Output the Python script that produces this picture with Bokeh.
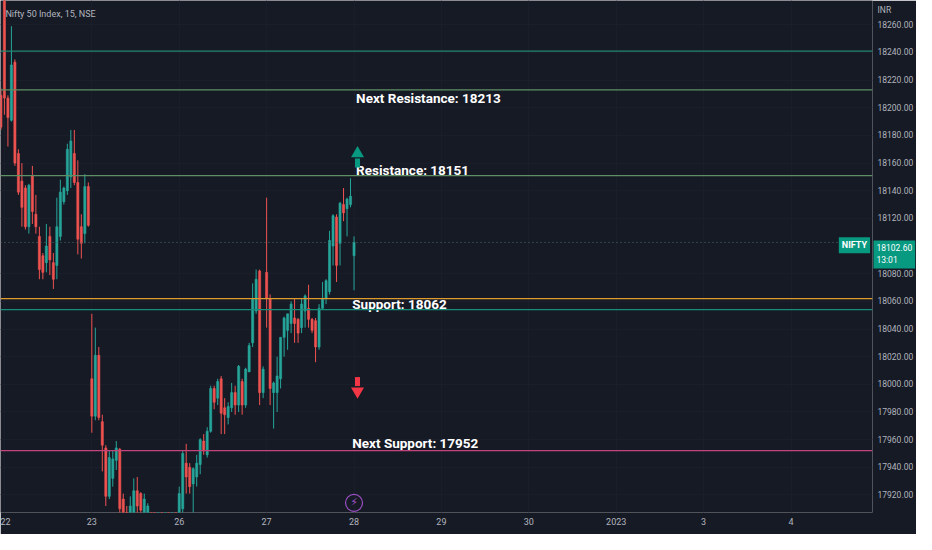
from bokeh.plotting import figure
from bokeh.models import ColumnDataSource, Span, Label, FixedTicker, Range1d, NumeralTickFormatter
from bokeh.core.properties import value
from bokeh.embed import file_html
from bokeh.resources import INLINE

# ---------------- data ----------------
title_text = "Nifty 50 Index, 15, NSE"
bar_index = list(range(-1, 101))
opens = [18209, 18292, 18207, 18191, 18233, 18167, 18147, 18142, 18114, 18151,
         18123, 18107, 18093, 18088, 18107, 18088, 18086, 18107, 18132, 18140,
         18150, 18167, 18146, 18114, 18109, 18143,
         18004, 17977, 18021, 17973, 17954, 17919, 17932, 17945, 17953, 17917,
         17905, 17898, 17907, 17923, 17921, 17905, 17906, 17900, 17885, 17872,
         17881, 17864, 17875, 17868, 17880,
         17890, 17910, 17943, 17940, 17928, 17933, 17942, 17959, 17949, 17966,
         17997, 17990, 18004, 17983, 17976, 17983, 17994, 17985, 18002, 17985,
         18009, 18030, 18053, 18082, 17994,
         18081, 18062, 17994, 17994, 18004, 18034, 18039, 18044, 18048, 18047,
         18041, 18053, 18055, 18047, 18046, 18027, 18055, 18062, 18067, 18100,
         18121, 18102, 18130, 18127, 18130,
         18093]
highs = [18214, 18299, 18209, 18259, 18235, 18170, 18160, 18144, 18145, 18158,
         18137, 18114, 18095, 18116, 18114, 18095, 18135, 18148, 18143, 18174,
         18184, 18184, 18162, 18123, 18152, 18146,
         18051, 18041, 18027, 17978, 17956, 17952, 17952, 17959, 17954, 17921,
         17912, 17919, 17932, 17933, 17922, 17921, 17914, 17903, 17890, 17886,
         17884, 17880, 17879, 17884, 17886,
         17926, 17952, 17957, 17943, 17940, 17949, 17961, 17964, 17969, 17999,
         17999, 18004, 18006, 17990, 17987, 18001, 17999, 18014, 18004, 18012,
         18030, 18073, 18083, 18083, 18013,
         18135, 18065, 18002, 18020, 18034, 18049, 18051, 18060, 18062, 18048,
         18062, 18065, 18072, 18048, 18048, 18058, 18074, 18076, 18111, 18123,
         18123, 18132, 18142, 18135, 18149,
         18107]
lows = [18184, 18195, 18172, 18190, 18158, 18137, 18114, 18112, 18109, 18116,
        18109, 18076, 18076, 18081, 18079, 18069, 18076, 18104, 18130, 18137,
        18142, 18144, 18094, 18091, 18102, 18114,
        17965, 17974, 17974, 17937, 17912, 17917, 17926, 17938, 17905, 17895,
        17891, 17891, 17902, 17905, 17902, 17898, 17895, 17880, 17868, 17866,
        17860, 17858, 17862, 17864, 17870,
        17885, 17907, 17921, 17921, 17907, 17926, 17935, 17949, 17947, 17965,
        17982, 17985, 17964, 17964, 17971, 17980, 17978, 17980, 17978, 17983,
        18009, 18027, 18051, 17985, 17990,
        18041, 17985, 17968, 17980, 17997, 18020, 18025, 18037, 18030, 18030,
        18037, 18041, 18041, 18037, 18016, 18025, 18054, 18058, 18065, 18086,
        18074, 18086, 18118, 18107, 18128,
        18068]
closes = [18186, 18207, 18193, 18231, 18160, 18139, 18128, 18114, 18144, 18125,
          18114, 18083, 18081, 18100, 18090, 18076, 18114, 18139, 18142, 18170,
          18176, 18146, 18105, 18102, 18143, 18115,
          17977, 18021, 17976, 17956, 17919, 17947, 17946, 17954, 17910, 17902,
          17898, 17912, 17923, 17912, 17909, 17917, 17912, 17885, 17872, 17881,
          17864, 17875, 17868, 17880, 17874,
          17921, 17950, 17933, 17926, 17939, 17943, 17960, 17952, 17966, 17997,
          17987, 18002, 17979, 17978, 17984, 17994, 17985, 18013, 17985, 18011,
          18028, 18062, 18076, 17994, 18011,
          18062, 17997, 18001, 18006, 18034, 18048, 18051, 18058, 18044, 18037,
          18058, 18064, 18047, 18039, 18027, 18055, 18062, 18075, 18104, 18122,
          18086, 18131, 18124, 18134, 18136,
          18102.6]

day_starts = [0, 25, 50, 75, 100, 125, 150, 175, 200, 225]
day_labels = ["22", "23", "26", "27", "28", "29", "30", "2023", "3", "4"]
price_ticks = [17920, 17940, 17960, 17980, 18000, 18020, 18040, 18060, 18080,
               18120, 18140, 18160, 18180, 18200, 18220, 18240, 18260]

levels = [18241, 18213, 18151, 18062, 18054, 17952]
level_labels = ["Next Resistance: 18213", "Resistance: 18151", "Support: 18062", "Next Support: 17952"]
level_label_values = [18213, 18151, 18062, 17952]
symbol = "NIFTY"
last_price = 18102.60
countdown = "13:01"
currency = "INR"

# ---------------- styles ----------------
BG = "#161a25"
TXT = "#b2b5be"
UP = "#26a69a"
DOWN = "#ef5350"
TAG = "#089981"
level_colors = ["#22876f", "#5f8f64", "#5f8f64", "#e09b2d", "#178e79", "#c2447e"]
FONT = "Roboto"

X0, X1 = -1.12, 248.3
Y0, Y1 = 17907.3, 18277.6

p = figure(width=916, height=534, output_backend="svg", toolbar_location=None,
           x_range=Range1d(X0, X1), y_range=Range1d(Y0, Y1), y_axis_location="right",
           background_fill_color=BG, border_fill_color=BG, outline_line_color=None,
           min_border_left=0, min_border_top=0, min_border_right=44, min_border_bottom=22)

p.xgrid.ticker = FixedTicker(ticks=day_starts)
p.ygrid.ticker = FixedTicker(ticks=price_ticks)
p.xgrid.grid_line_color = "#1a1e2a"
p.ygrid.grid_line_color = "#1a1e2a"

yax = p.yaxis[0]
for ax in (p.xaxis[0], yax):
    ax.axis_line_color = None
    ax.major_tick_line_color = None
    ax.minor_tick_line_color = None
    ax.major_tick_out = 0
    ax.major_tick_in = 0
    ax.major_label_text_color = TXT
    ax.major_label_text_font = FONT
    ax.major_label_text_font_size = "8.5px"

# currency caption sits at the top of the price scale, as one more axis label
currency_pos = round(Y1 - 7, 1)
yax.ticker = FixedTicker(ticks=price_ticks + [currency_pos])
yax.formatter = NumeralTickFormatter(format="0.00")
yax.major_label_overrides = {currency_pos: currency}
p.xaxis.ticker = FixedTicker(ticks=day_starts)
p.xaxis.major_label_overrides = {d: l for d, l in zip(day_starts, day_labels)}
p.xaxis.major_label_standoff = 5
p.xaxis.major_label_text_font_size = "9px"

# candles
colors = [UP if c >= o else DOWN for o, c in zip(opens, closes)]
src = ColumnDataSource(dict(x=bar_index, o=opens, h=highs, l=lows, c=closes,
                            top=[max(o, c) for o, c in zip(opens, closes)],
                            bot=[min(o, c) for o, c in zip(opens, closes)],
                            col=colors))
p.segment(x0="x", y0="l", x1="x", y1="h", color="col", line_width=1, source=src)
p.vbar(x="x", width=0.6, top="top", bottom="bot", fill_color="col", line_color="col",
       line_width=0.6, source=src)

# levels
for lv, col in zip(levels, level_colors):
    p.add_layout(Span(location=lv, dimension="width", line_color=col, line_width=1.2))
p.add_layout(Span(location=last_price, dimension="width", line_color="#4d6f6c",
                  line_width=1, line_dash="1 3"))

# level labels
label_x = [day_starts[4] + 0.6, day_starts[4] + 0.6, day_starts[4] - 0.5, day_starts[4] - 0.5]
label_dy = [8, -6, 5, -8]
p.text(x=label_x, y=level_label_values, text=level_labels, text_color="#ffffff",
       text_font=value(FONT), text_font_style="bold", text_font_size="13.5px",
       text_baseline="middle", text_align="left", y_offset=label_dy)

# arrows
res, sup = level_label_values[1], level_label_values[2]
ax_arrow = day_starts[4] + 1.0
p.rect(x=[ax_arrow], y=[res + 9], width=5, height=9, width_units="screen",
       height_units="screen", fill_color=TAG, line_color=None)
p.scatter(x=[ax_arrow], y=[res + 16], marker="triangle", size=13,
          fill_color=TAG, line_color=None)
p.rect(x=[ax_arrow], y=[sup - 60], width=5, height=9, width_units="screen",
       height_units="screen", fill_color="#f23645", line_color=None)
p.scatter(x=[ax_arrow], y=[sup - 67], marker="inverted_triangle", size=13,
          fill_color="#f23645", line_color=None)

# event marker (lightning)
p.scatter(x=[day_starts[4]], y=[Y0 + 7], marker="circle", size=17,
          fill_color=None, line_color="#9c4fc4", line_width=1.2)
p.text(x=[day_starts[4]], y=[Y0 + 7], text=["\u26a1"], text_color="#9c4fc4",
       text_font=value("DejaVu Sans"), text_font_size="11px",
       text_align="center", text_baseline="middle")

# title
p.add_layout(Label(x=X0 + 1.4, y=Y1 - 10, text=title_text, text_color=TXT,
                   text_font=FONT, text_font_size="9px", text_baseline="middle"))

# symbol tag inside the chart, at the right edge
p.add_layout(Label(x=X1 - 0.7, y=last_price - 2, text=symbol, text_color="#ffffff",
                   text_font=FONT, text_font_size="9px", text_font_style="bold",
                   text_baseline="middle", text_align="right",
                   background_fill_color=TAG, padding=3))

# last-price tag on the price scale (side panel, so it is not clipped to the frame)
tag = Label(x=X1, y=last_price + 1.5, x_offset=1,
            text=f"{last_price:.2f}\n{countdown}",
            text_color="#ffffff", text_font=FONT, text_font_size="8.5px",
            text_baseline="top", text_align="left",
            background_fill_color=TAG, padding=3)
p.add_layout(tag, "right")
# price axis outermost; a negative standoff pulls its labels back next to the chart
p.right = [tag, yax]
yax.major_label_standoff = -37

open("out.html", "w").write(file_html(p, INLINE))
